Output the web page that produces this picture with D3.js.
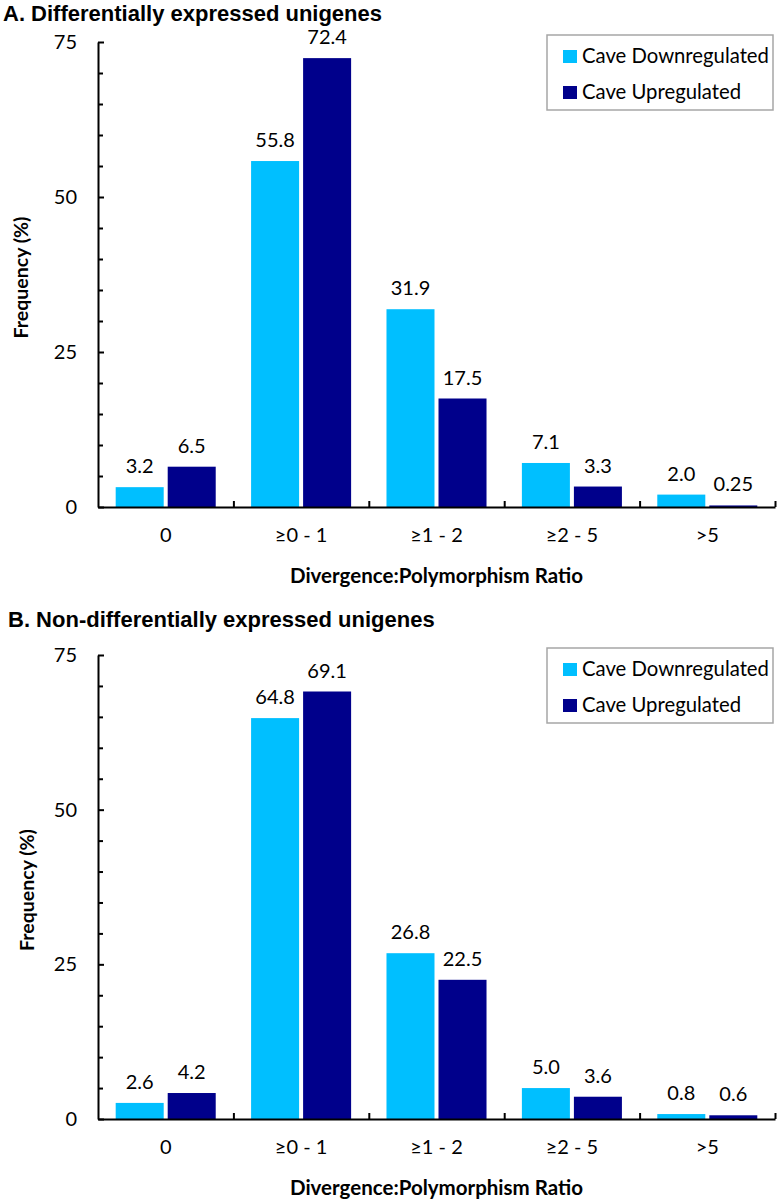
<!DOCTYPE html>
<html>
<head>
<meta charset="utf-8">
<script src="https://cdn.jsdelivr.net/npm/d3@7"></script>
<style>
  html, body { margin: 0; padding: 0; background: #fff; }
  svg { display: block; }
  text { font-family: Lato, "Open Sans", sans-serif; fill: #000; }
</style>
</head>
<body>
<svg id="chart" width="780" height="1200"></svg>
<script>
// ---- data ----
const categories = ["0", "\u22650 - 1", "\u22651 - 2", "\u22652 - 5", ">5"];
const seriesNames = ["Cave Downregulated", "Cave Upregulated"];
const seriesColors = ["#00BFFF", "#00008B"];

const panelATitle = "A. Differentially expressed unigenes";
const panelADown = [3.2, 55.8, 31.9, 7.1, 2.0];
const panelAUp   = [6.5, 72.4, 17.5, 3.3, 0.25];
const panelADownLabels = ["3.2", "55.8", "31.9", "7.1", "2.0"];
const panelAUpLabels   = ["6.5", "72.4", "17.5", "3.3", "0.25"];

const panelBTitle = "B. Non-differentially expressed unigenes";
const panelBDown = [2.6, 64.8, 26.8, 5.0, 0.8];
const panelBUp   = [4.2, 69.1, 22.5, 3.6, 0.6];
const panelBDownLabels = ["2.6", "64.8", "26.8", "5.0", "0.8"];
const panelBUpLabels   = ["4.2", "69.1", "22.5", "3.6", "0.6"];

const yMajorTicks = [0, 25, 50, 75];
const yMax = 75;
const xAxisTitle = "Divergence:Polymorphism Ratio";
const yAxisTitle = "Frequency (%)";

// ---- drawing ----
const svg = d3.select("#chart");
const FS = "20px";

function drawPanel(cfg) {
  const g = svg.append("g");
  const left = 98, right = 775;
  const x0 = d3.scaleBand().domain(categories).range([left, right]).paddingInner(0).paddingOuter(0);
  const x1 = d3.scaleBand().domain([0, 1]).range([0, x0.bandwidth()]).paddingInner(0.077).paddingOuter(0.34);
  const y = d3.scaleLinear().domain([0, yMax]).range([cfg.y0, cfg.yTop]);

  // title
  g.append("text")
    .attr("x", cfg.titleX).attr("y", cfg.titleY)
    .style("font-family", "'Liberation Sans', Arial, sans-serif")
    .style("font-weight", "bold").style("font-size", "22px")
    .text(cfg.title);

  // bars
  const rows = categories.map((c, i) => ({
    cat: c,
    vals: [
      { s: 0, v: cfg.down[i], label: cfg.downLabels[i] },
      { s: 1, v: cfg.up[i], label: cfg.upLabels[i] }
    ]
  }));
  const cg = g.selectAll("g.cat").data(rows).enter().append("g")
    .attr("transform", d => `translate(${x0(d.cat)},0)`);
  cg.selectAll("rect").data(d => d.vals).enter().append("rect")
    .attr("x", d => x1(d.s))
    .attr("width", x1.bandwidth())
    .attr("y", d => y(d.v))
    .attr("height", d => y(0) - y(d.v))
    .attr("fill", d => seriesColors[d.s]);
  cg.selectAll("text").data(d => d.vals).enter().append("text")
    .attr("x", d => x1(d.s) + x1.bandwidth() / 2)
    .attr("y", d => y(d.v) - 14)
    .attr("text-anchor", "middle")
    .style("font-size", FS)
    .text(d => d.label);

  // y axis (major)
  const yAxis = d3.axisLeft(y).tickValues(yMajorTicks).tickSize(-6).tickSizeOuter(0).tickPadding(21);
  const ya = g.append("g").attr("transform", `translate(${left},0)`).call(yAxis);
  ya.select(".domain").attr("stroke", "#000").attr("stroke-width", 2);
  ya.selectAll(".tick line").attr("stroke", "#000").attr("stroke-width", 2);
  ya.selectAll(".tick text").style("font-size", FS).style("font-family", "Lato, sans-serif").attr("fill", "#000");
  // y minor ticks
  const yMinor = d3.range(0, yMax + 1, 5).filter(v => !yMajorTicks.includes(v));
  const yAxisMinor = d3.axisLeft(y).tickValues(yMinor).tickSize(-5).tickSizeOuter(0).tickFormat("");
  const ym = g.append("g").attr("transform", `translate(${left},0)`).call(yAxisMinor);
  ym.select(".domain").remove();
  ym.selectAll(".tick line").attr("stroke", "#000").attr("stroke-width", 2);

  // x axis labels
  const xAxis = d3.axisBottom(x0).tickSize(0).tickPadding(21);
  const xa = g.append("g").attr("transform", `translate(0,${cfg.y0})`).call(xAxis);
  xa.select(".domain").attr("stroke", "#000").attr("stroke-width", 2);
  xa.selectAll(".tick text").style("font-size", FS).style("font-family", "Lato, sans-serif").attr("fill", "#000");
  // x boundary ticks
  const xb = d3.scaleLinear().domain([0, categories.length]).range([left, right]);
  const xbAxis = d3.axisBottom(xb).tickValues(d3.range(1, categories.length + 1)).tickSize(-6).tickSizeOuter(0).tickFormat("");
  const xbg = g.append("g").attr("transform", `translate(0,${cfg.y0})`).call(xbAxis);
  xbg.select(".domain").remove();
  xbg.selectAll(".tick line").attr("stroke", "#000").attr("stroke-width", 2);

  // axis titles
  g.append("text")
    .attr("x", (left + right) / 2).attr("y", cfg.xTitleY)
    .attr("text-anchor", "middle").attr("dominant-baseline", "central")
    .style("font-weight", "bold").style("font-size", "20.5px")
    .text(xAxisTitle);
  g.append("text")
    .attr("transform", `translate(${cfg.yTitleX},${(cfg.y0 + cfg.yTop) / 2 + 3}) rotate(-90)`)
    .attr("text-anchor", "middle").attr("dominant-baseline", "central")
    .style("font-weight", "bold").style("font-size", "19.5px")
    .text(yAxisTitle);

  // legend
  const lg = g.append("g").attr("transform", `translate(547,${cfg.legendY})`);
  lg.append("rect").attr("x", 0).attr("y", 0).attr("width", 226).attr("height", 75)
    .attr("fill", "#fff").attr("stroke", "#a6a6a6").attr("stroke-width", 1.5);
  seriesNames.forEach((name, i) => {
    lg.append("rect").attr("x", 16).attr("y", 15 + i * 36).attr("width", 14).attr("height", 13)
      .attr("fill", seriesColors[i]);
    lg.append("text").attr("x", 35).attr("y", 28 + i * 36)
      .style("font-size", "20.3px").text(name);
  });
}

drawPanel({
  title: panelATitle, titleX: 3, titleY: 21,
  down: panelADown, up: panelAUp, downLabels: panelADownLabels, upLabels: panelAUpLabels,
  y0: 507, yTop: 42, xTitleY: 575, yTitleX: 20, legendY: 35
});
drawPanel({
  title: panelBTitle, titleX: 8, titleY: 627,
  down: panelBDown, up: panelBUp, downLabels: panelBDownLabels, upLabels: panelBUpLabels,
  y0: 1119, yTop: 655, xTitleY: 1187, yTitleX: 26, legendY: 648
});
</script>
</body>
</html>
